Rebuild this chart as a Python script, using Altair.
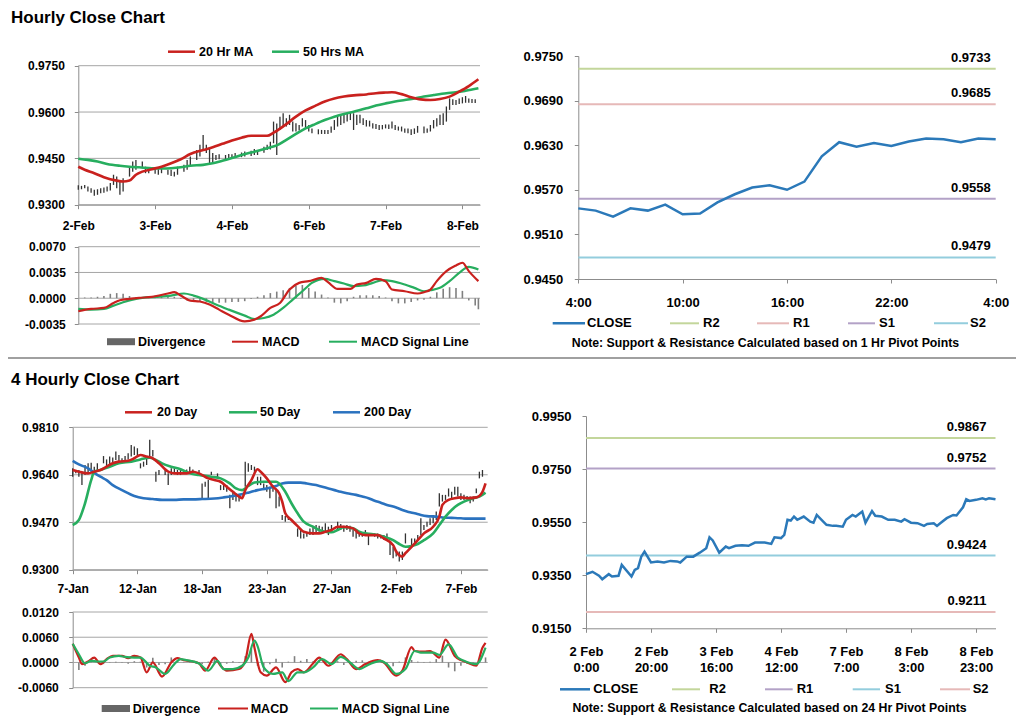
import json
import pandas as pd
import altair as alt

FONT = "Liberation Sans"
W, H = 1008, 708

# ---------------- colours ----------------
RED = "#c9211e"
GREEN = "#27ae5f"
BLUE200 = "#2a72bf"
CLOSE_BLUE = "#2b79b9"
BAR = "#333333"
DIVC = "#808080"
GRID = "#a6a6a6"
AXC = "#8c8c8c"
C_GREEN = "#c3d69b"
C_PINK = "#e6b9b8"
C_PURP = "#b3a2c7"
C_LBLUE = "#93cddd"

# ================= DATA =================
# --- Hourly close chart (hour index from 2-Feb 00:00) ---
tl_bar_hour = [0, 1, 2, 3, 4, 5, 6, 7, 8, 9,
               10, 11, 12, 13, 14, 16, 17, 18, 20, 21,
               22, 24, 25, 26, 28, 29, 30, 31, 33, 34,
               35, 37, 38, 39, 40, 41, 42, 43, 44, 46,
               47, 48, 49, 51, 52, 54, 55, 56, 58, 59,
               60, 61, 62, 63, 64, 65, 66, 67, 68, 69,
               70, 71, 72, 73, 75, 76, 77, 78, 79, 80,
               81, 82, 83, 84, 85, 86, 87, 88, 89, 90,
               91, 92, 93, 94, 95, 96, 97, 98, 99, 100,
               101, 102, 103, 104, 105, 106, 108, 109, 110, 111,
               112, 113, 114, 115, 116, 117, 118, 119, 120, 121,
               122, 123, 124]
tl_bar_low = [.9348, .9350, .9353, .9343, .9339, .9329, .9332, .9337, .9339, .9343,
              .9346, .9364, .9353, .9332, .9343, .9391, .9407, .9413, .9418, .9402,
              .9402, .9400, .9397, .9402, .9397, .9393, .9391, .9397, .9407, .9413,
              .9423, .9445, .9456, .9477, .9467, .9429, .9434, .9445, .9447, .9445,
              .9449, .9450, .9452, .9454, .9456, .9458, .9461, .9461, .9468, .9477,
              .9479, .9499, .9461, .9542, .9553, .9553, .9558, .9537, .9537, .9540,
              .9553, .9547, .9537, .9531, .9528, .9529, .9529, .9529, .9533, .9542,
              .9553, .9558, .9564, .9569, .9574, .9542, .9558, .9564, .9558, .9553,
              .9553, .9547, .9545, .9542, .9544, .9547, .9545, .9547, .9542, .9540,
              .9537, .9533, .9531, .9526, .9529, .9533, .9531, .9533, .9537, .9547,
              .9553, .9558, .9558, .9569, .9607, .9623, .9623, .9626, .9628, .9630,
              .9630, .9629, .9629]
tl_bar_high = [.9363, .9361, .9364, .9359, .9353, .9348, .9350, .9353, .9356, .9359,
               .9370, .9397, .9391, .9380, .9386, .9423, .9440, .9445, .9440, .9423,
               .9418, .9421, .9415, .9418, .9413, .9413, .9407, .9423, .9429, .9445,
               .9456, .9477, .9494, .9526, .9494, .9483, .9467, .9461, .9463, .9461,
               .9464, .9463, .9467, .9469, .9472, .9475, .9480, .9477, .9488, .9494,
               .9504, .9569, .9563, .9585, .9596, .9580, .9591, .9569, .9564, .9558,
               .9580, .9574, .9558, .9547, .9544, .9542, .9542, .9542, .9553, .9574,
               .9585, .9591, .9596, .9596, .9598, .9596, .9591, .9591, .9580, .9574,
               .9572, .9564, .9561, .9558, .9558, .9560, .9560, .9569, .9558, .9553,
               .9553, .9547, .9547, .9544, .9547, .9555, .9553, .9547, .9558, .9574,
               .9580, .9591, .9596, .9618, .9644, .9641, .9639, .9644, .9648, .9652,
               .9644, .9642, .9641]
tl_ma20_hour = [0, 2, 5, 8, 12, 14, 16, 18, 20, 23, 26, 29, 32, 35, 39, 42, 45, 48, 51, 54,
                57, 59, 61, 65, 68, 71, 74, 77, 80, 83, 86, 90, 93, 96, 98, 101, 104, 107, 110, 113,
                116, 119, 122, 125]
tl_ma20 = [.9423, .9413, .9402, .9389, .9378, .9375, .9378, .9397, .9407, .9415,
           .9423, .9434, .9447, .9464, .9477, .9486, .9497, .9508, .9517, .9523,
           .9523, .9523, .9533, .9561, .9585, .9605, .9620, .9634, .9644, .9650,
           .9654, .9657, .9661, .9663, .9664, .9658, .9648, .9641, .9639, .9642,
           .9650, .9666, .9684, .9706]
tl_ma50_hour = [0, 3, 6, 9, 13, 16, 19, 23, 26, 29, 32, 35, 39, 42, 45, 48, 51, 54, 57, 60,
                62, 65, 68, 71, 74, 77, 80, 83, 86, 90, 93, 96, 99, 102, 105, 108, 111, 115, 118, 121,
                125]
tl_ma50 = [.9449, .9445, .9440, .9432, .9426, .9423, .9421, .9418, .9417, .9418,
           .9421, .9426, .9429, .9434, .9442, .9451, .9461, .9469, .9477, .9486,
           .9492, .9510, .9529, .9547, .9561, .9574, .9585, .9594, .9601, .9612,
           .9621, .9628, .9634, .9639, .9644, .9650, .9655, .9661, .9664, .9669,
           .9677]
tl_xtick_hour = [0, 24, 48, 72, 96, 120]
tl_xtick_label = ["2-Feb", "3-Feb", "4-Feb", "6-Feb", "7-Feb", "8-Feb"]
tl_ytick = [0.9300, 0.9450, 0.9600, 0.9750]

tm_macd_hour = [0, 4, 8, 11, 13, 16, 19, 23, 28, 30, 32, 35, 38, 41, 44, 47, 52, 55, 57, 60,
                63, 66, 69, 72, 76, 78, 81, 85, 87, 90, 93, 96, 98, 102, 106, 108, 110, 112, 115, 118,
                120, 122, 125]
tm_macd = [-.00177, -.00145, -.00132, -.00064, -.00027, -.00009, .00005, .00018, .00064, .00082,
           .00036, -.00032, -.00045, -.00086, -.00155, -.00223, -.00314, -.00291, -.00245, -.00132,
           -.00064, .00118, .00209, .00232, .00277, .00218, .00127, .00127, .00186, .00209,
           .00264, .00232, .00118, .00095, .00064, .00082, .00118, .00232, .00368, .00445,
           .00482, .00368, .00232]
tm_sig_hour = [0, 4, 8, 11, 14, 17, 20, 24, 29, 33, 36, 39, 43, 47, 52, 55, 58, 61, 64, 67,
               70, 73, 77, 80, 83, 86, 89, 92, 95, 98, 102, 105, 108, 110, 113, 116, 119, 122, 125]
tm_sig = [-.00145, -.00155, -.00145, -.00100, -.00055, -.00018, .00005, .00018, .00036, .00064,
          .00036, -.00009, -.00086, -.00155, -.00236, -.00282, -.00268, -.00223, -.00132, -.00018,
          .00095, .00209, .00264, .00232, .00200, .00164, .00173, .00209, .00245, .00232,
          .00186, .00141, .00095, .00109, .00141, .00232, .00345, .00427, .00391]
tm_div_hour = [0, 2, 4, 6, 8, 10, 12, 14, 16, 18, 20, 22, 24, 26, 28, 30, 32, 34, 36, 38,
               40, 42, 44, 46, 48, 50, 52, 54, 56, 58, 60, 62, 64, 66, 68, 70, 72, 74, 76, 78,
               80, 82, 84, 86, 88, 90, 92, 94, 96, 98, 100, 102, 104, 106, 108, 110, 112, 114, 116, 118,
               120, 122, 124, 125]
tm_div = [0, .0001, .0001, .0002, .0003, .0006, .0007, .0006, .0003, .0001,
          .0001, .0001, .0001, .0002, .0003, .0002, -.0001, -.0003, -.0004, -.0005,
          -.0005, -.0006, -.0006, -.0006, -.0005, -.0005, -.0004, -.0001, .0002, .0004,
          .0007, .0009, .0011, .0014, .0017, .0018, .0014, .0009, .0005, .0001,
          -.0006, -.0007, -.0004, .0002, .0004, .0004, .0004, .0003, .0001, -.0004,
          -.0007, -.0007, -.0005, -.0003, -.0002, .0002, .0008, .0013, .0015, .0014,
          .0010, -.0003, -.0010, -.0015]
tm_ytick = [-0.0035, 0.0, 0.0035, 0.0070]

tr_hour = [0, 1, 2, 3, 4, 5, 6, 7, 8, 9, 10, 11, 12, 13, 14, 15, 16, 17, 18, 19, 20, 21, 22, 23, 24]
tr_close = [.9545, .9542, .9534, .9545, .9542, .9550, .9537, .9538, .9553, .9564,
            .9573, .9576, .9570, .9581, .9615, .9634, .9628, .9633, .9629, .9635,
            .9639, .9638, .9634, .9639, .9638]
tr_xtick_hour = [0, 6, 12, 18, 24]
tr_xtick_label = ["4:00", "10:00", "16:00", "22:00", "4:00"]
tr_ytick = [0.9450, 0.9510, 0.9570, 0.9630, 0.9690, 0.9750]
tr_level_name = ["R2", "R1", "S1", "S2"]
tr_level_value = [0.9733, 0.9685, 0.9558, 0.9479]
tr_level_color = [C_GREEN, C_PINK, C_PURP, C_LBLUE]

# --- 4 hourly close chart (bar index from 7-Jan) ---
bl_bar_idx = [0, 1, 2, 3, 4, 5, 6, 7, 8, 10,
              11, 12, 13, 14, 15, 16, 17, 18, 19, 20,
              21, 22, 23, 24, 25, 26, 27, 28, 30, 31,
              32, 33, 34, 35, 36, 37, 38, 39, 41, 42,
              43, 44, 45, 47, 48, 49, 50, 51, 52, 53,
              54, 56, 57, 58, 59, 60, 61, 62, 63, 64,
              65, 66, 67, 68, 69, 70, 73, 74, 75, 76,
              77, 78, 79, 80, 81, 82, 83, 84, 86, 87,
              88, 89, 90, 91, 92, 93, 94, 95, 96, 98,
              99, 100, 101, 102, 103, 104, 105, 106, 107, 108,
              110, 111, 112, 113, 114, 115, 116, 117, 118, 119,
              120, 121, 122, 123, 124, 125, 126, 127, 128, 129,
              130, 131, 132, 133]
bl_bar_low = [.9633, .9645, .9633, .9603, .9639, .9645, .9657, .9651, .9657, .9681,
              .9669, .9675, .9675, .9693, .9687, .9681, .9693, .9695, .9705, .9711,
              .9705, .9663, .9669, .9675, .9705, .9705, .9615, .9639, .9639, .9603,
              .9639, .9645, .9639, .9639, .9645, .9643, .9645, .9647, .9645, .9556,
              .9597, .9556, .9639, .9631, .9585, .9585, .9579, .9520, .9550, .9544,
              .9544, .9597, .9651, .9657, .9645, .9603, .9603, .9585, .9579, .9556,
              .9579, .9520, .9526, .9478, .9472, .9478, .9418, .9412, .9412, .9418,
              .9424, .9424, .9430, .9436, .9430, .9436, .9424, .9436, .9442, .9442,
              .9436, .9442, .9436, .9418, .9412, .9418, .9418, .9424, .9388, .9418,
              .9412, .9412, .9406, .9406, .9353, .9341, .9347, .9329, .9335, .9394,
              .9388, .9394, .9406, .9424, .9442, .9454, .9460, .9466, .9478, .9526,
              .9544, .9550, .9562, .9550, .9568, .9562, .9550, .9550, .9556, .9538,
              .9544, .9574, .9627, .9633]
bl_bar_high = [.9663, .9657, .9657, .9651, .9675, .9681, .9683, .9669, .9681, .9707,
               .9695, .9705, .9702, .9723, .9711, .9699, .9707, .9717, .9747, .9741,
               .9735, .9681, .9687, .9699, .9765, .9729, .9651, .9657, .9657, .9645,
               .9663, .9663, .9657, .9657, .9657, .9659, .9669, .9659, .9657, .9609,
               .9615, .9621, .9651, .9645, .9603, .9603, .9603, .9568, .9579, .9574,
               .9568, .9687, .9681, .9675, .9669, .9633, .9633, .9609, .9603, .9597,
               .9603, .9591, .9562, .9496, .9492, .9490, .9448, .9442, .9430, .9433,
               .9448, .9454, .9460, .9457, .9454, .9466, .9454, .9460, .9472, .9464,
               .9457, .9460, .9457, .9442, .9436, .9436, .9430, .9442, .9430, .9430,
               .9430, .9424, .9424, .9430, .9400, .9382, .9371, .9365, .9365, .9430,
               .9412, .9412, .9424, .9484, .9460, .9472, .9484, .9496, .9508, .9574,
               .9568, .9568, .9591, .9579, .9597, .9597, .9574, .9568, .9564, .9562,
               .9562, .9591, .9651, .9657]
bl_ma20_idx = [0, 2, 5, 7, 9, 11, 13, 15, 18, 20, 22, 24, 26, 28, 31, 33, 35, 37, 39, 41,
               44, 46, 48, 50, 52, 54, 55, 56, 58, 60, 61, 63, 65, 67, 68, 69, 71, 73, 75, 78,
               80, 82, 84, 86, 88, 91, 93, 95, 97, 99, 101, 104, 105, 107, 108, 110, 112, 114, 117, 119,
               120, 122, 124, 126, 128, 131, 133, 134]
bl_ma20 = [.9657, .9651, .9645, .9651, .9657, .9669, .9681, .9687, .9690, .9699,
           .9711, .9705, .9699, .9681, .9651, .9645, .9645, .9645, .9651, .9645,
           .9627, .9621, .9615, .9597, .9579, .9562, .9556, .9585, .9621, .9660,
           .9651, .9627, .9597, .9574, .9544, .9502, .9478, .9456, .9436, .9430,
           .9430, .9436, .9442, .9454, .9454, .9448, .9430, .9424, .9424, .9424,
           .9412, .9388, .9365, .9347, .9359, .9382, .9406, .9430, .9454, .9490,
           .9532, .9550, .9556, .9559, .9556, .9559, .9579, .9609]
bl_ma50_idx = [0, 2, 4, 6, 7, 9, 12, 15, 19, 22, 25, 27, 29, 32, 35, 38, 41, 45, 48, 51,
               53, 55, 57, 59, 62, 66, 67, 69, 71, 73, 75, 78, 80, 82, 84, 86, 88, 91, 93, 95,
               97, 99, 101, 104, 106, 108, 110, 112, 114, 117, 119, 121, 123, 125, 127, 130, 132, 134]
bl_ma50 = [.9460, .9478, .9538, .9621, .9651, .9657, .9669, .9681, .9687, .9695,
           .9701, .9693, .9681, .9669, .9660, .9645, .9639, .9633, .9627, .9609,
           .9591, .9585, .9600, .9612, .9615, .9615, .9609, .9579, .9538, .9502,
           .9472, .9454, .9442, .9436, .9434, .9442, .9452, .9448, .9436, .9430,
           .9428, .9424, .9418, .9406, .9392, .9382, .9385, .9392, .9406, .9430,
           .9460, .9490, .9514, .9532, .9544, .9556, .9562, .9576]
bl_ma200_idx = [0, 2, 5, 7, 9, 11, 13, 16, 20, 23, 26, 29, 33, 36, 39, 42, 46, 49, 52, 54,
                57, 60, 63, 66, 68, 70, 72, 74, 76, 79, 81, 83, 85, 87, 89, 92, 94, 96, 98, 100,
                102, 105, 107, 109, 111, 113, 115, 118, 120, 122, 124, 126, 128, 131, 134]
bl_ma200 = [.9690, .9677, .9663, .9647, .9633, .9621, .9603, .9585, .9564, .9556,
            .9553, .9550, .9550, .9552, .9552, .9553, .9555, .9559, .9564, .9568,
            .9576, .9585, .9591, .9600, .9609, .9612, .9612, .9612, .9609, .9603,
            .9597, .9591, .9585, .9579, .9574, .9568, .9562, .9556, .9547, .9540,
            .9532, .9523, .9514, .9507, .9502, .9496, .9492, .9490, .9487, .9486,
            .9485, .9484, .9483, .9483, .9483]
bl_xtick_idx = [0, 21, 42, 63, 84, 105, 126]
bl_xtick_label = ["7-Jan", "12-Jan", "18-Jan", "23-Jan", "27-Jan", "2-Feb", "7-Feb"]
bl_ytick = [0.9300, 0.9470, 0.9640, 0.9810]

bm_macd_idx = [0, 2, 3, 5, 7, 9, 11, 13, 16, 18, 20, 22, 24, 26, 29, 32, 34, 36, 39, 41,
               43, 46, 48, 50, 54, 56, 58, 59, 61, 63, 66, 69, 71, 73, 75, 78, 80, 83, 87, 89,
               92, 95, 99, 101, 105, 107, 110, 111, 114, 116, 119, 121, 124, 126, 128, 131, 133, 134]
bm_macd = [.00444, .00117, -.00039, .00023, .00117, -.00039, .00078, .00156, .00156, .00101,
           .00156, .00117, -.00234, 0, -.00335, 0, .00101, .00055, .00023, -.00023,
           -.00195, .00117, -.00078, -.00195, -.00156, .00039, .0068, .00351, -.00234, -.00312,
           -.00117, -.00467, -.00234, -.00156, -.00234, -.00023, .00117, -.00078, .00195, .00078,
           -.00156, -.00039, .00055, 0, -.00312, -.00195, .00366, .00273, .00257, .00273,
           .00117, .00545, .00156, .00055, 0, -.00078, .00351, .00467]
bm_sig_idx = [0, 2, 4, 6, 8, 10, 12, 15, 17, 20, 22, 25, 27, 30, 33, 35, 37, 41, 44, 47,
              49, 52, 55, 57, 59, 60, 62, 65, 68, 70, 73, 75, 78, 81, 84, 87, 90, 93, 96, 100,
              102, 105, 108, 111, 113, 117, 119, 122, 125, 127, 131, 134]
bm_sig = [.00444, .00195, -.00023, .00039, .00023, .00023, .00117, .00156, .00132, .00117,
          .00117, -.00078, -.00117, -.00273, -.00039, .00078, .00055, -.00023, -.00195, .00039,
          -.00156, -.00156, -.00078, .00117, .00522, .00390, -.00117, -.00273, -.00234, -.00444,
          -.00234, -.00234, -.00117, .00078, -.00039, .00132, 0, -.00156, -.00055, .00039,
          -.00039, -.00273, -.00156, .00273, .00234, .00234, .00179, .00428, .00117, .00039,
          -.00039, .00351]
bm_div_idx = [0, 2, 4, 6, 8, 10, 12, 14, 16, 18, 20, 22, 24, 26, 28, 30, 32, 34, 36, 38,
              40, 42, 44, 46, 48, 50, 52, 54, 56, 58, 60, 62, 64, 66, 68, 70, 72, 74, 76, 78,
              80, 82, 84, 86, 88, 90, 92, 94, 96, 98, 100, 102, 104, 106, 108, 110, 112, 114, 116, 118,
              120, 122, 124, 126, 128, 130, 132, 134]
bm_div = [0, -.0018, -.0008, .0002, .0004, -.0004, .0001, .0002, .0001, -.0003,
          .0003, .0002, -.0012, .0011, -.0006, -.0004, .0012, .0003, .0001, .0001,
          -.0001, -.0004, .0002, .0011, -.0004, -.0003, .0003, -.0001, .0015, .0032,
          -.0008, -.0022, -.0004, .0009, -.0012, .0002, .0015, .0004, .0008, .0003,
          .0006, -.0002, -.0003, .0003, -.0006, -.0002, .0004, .0005, .0002, .0001,
          -.0001, -.0006, -.0009, .0002, .0012, .0006, .0002, -.0001, .0002, .0008,
          .0016, -.0012, -.0021, -.0008, -.0003, -.0002, .0006, .0012]
bm_ytick = [-0.0060, 0.0, 0.0060, 0.0120]

br_hour = [0, 2, 4, 5, 7, 8, 10, 11, 14, 15, 16, 17, 18, 20, 22, 24, 26, 28, 29, 31,
           33, 35, 37, 38, 39, 41, 43, 44, 46, 48, 50, 52, 55, 57, 58, 60, 61, 62, 63, 64,
           65, 67, 69, 70, 71, 73, 74, 76, 77, 79, 80, 82, 83, 85, 86, 88, 89, 91, 93, 95,
           97, 98, 100, 102, 104, 105, 107, 108, 109, 111, 113, 114, 116, 117, 118, 120, 122, 123, 124, 126]
br_close = [.9354, .9363, .9348, .9335, .9354, .9345, .9348, .9389, .9345, .9370,
            .9377, .9420, .9439, .9398, .9402, .9398, .9404, .9402, .9398, .9420,
            .9420, .9435, .9452, .9493, .9481, .9435, .9458, .9452, .9461, .9463,
            .9461, .9473, .9473, .9468, .9493, .9490, .9502, .9559, .9556, .9571,
            .9559, .9571, .9552, .9548, .9577, .9552, .9540, .9536, .9536, .9533,
            .9559, .9577, .9571, .9590, .9548, .9592, .9574, .9571, .9559, .9559,
            .9552, .9561, .9548, .9546, .9536, .9543, .9546, .9536, .9546, .9565,
            .9577, .9575, .9606, .9636, .9630, .9634, .9640, .9636, .9640, .9636]
br_xtick_hour = [0, 20, 40, 60, 80, 100, 120]
br_xtick_label = [["2 Feb", "0:00"], ["2 Feb", "20:00"], ["3 Feb", "16:00"], ["4 Feb", "12:00"],
                  ["7 Feb", "7:00"], ["8 Feb", "3:00"], ["8 Feb", "23:00"]]
br_ytick = [0.9150, 0.9350, 0.9550, 0.9750, 0.9950]
br_level_name = ["R2", "R1", "S1", "S2"]
br_level_value = [0.9867, 0.9752, 0.9424, 0.9211]
br_level_color = [C_GREEN, C_PURP, C_LBLUE, C_PINK]

# ================= LAYOUT (pixel positions of each panel) =================
PANEL = {
    "tl": {"x_dom": [0, 125.5], "x_rng": [70.3, 472.0], "y_dom": [0.93, 0.975], "y_rng": [196.7, 57.7]},
    "tm": {"x_dom": [0, 125.5], "x_rng": [70.3, 472.0], "y_dom": [-0.0035, 0.007], "y_rng": [316.0, 238.7]},
    "tr": {"x_dom": [0, 24], "x_rng": [570.3, 987.7], "y_dom": [0.945, 0.975], "y_rng": [271.0, 48.0]},
    "bl": {"x_dom": [0, 134.7], "x_rng": [64.7, 479.7], "y_dom": [0.93, 0.981], "y_rng": [561.7, 419.3]},
    "bm": {"x_dom": [0, 134.7], "x_rng": [64.7, 479.7], "y_dom": [-0.006, 0.012], "y_rng": [679.7, 604.0]},
    "br": {"x_dom": [0, 126], "x_rng": [578.0, 987.5], "y_dom": [0.915, 0.995], "y_rng": [620.3, 408.0]},
}

YLAB = "replace(format(datum.value, '.4f'), '\u2212', '-')"


def S(p, ax):
    d = PANEL[p]
    return alt.Scale(domain=d[ax + "_dom"], range=d[ax + "_rng"], nice=False, zero=False)


def EX(p, field, axis=None):
    return alt.X(field, type="quantitative", scale=S(p, "x"), axis=axis, title=None)


def EY(p, field, axis=None):
    return alt.Y(field, type="quantitative", scale=S(p, "y"), axis=axis, title=None)


def y_axis(p, values, size, pad):
    return alt.Axis(orient="left", offset=-PANEL[p]["x_rng"][0], values=values, labelExpr=YLAB,
                    tickSize=4, labelPadding=pad, labelFontSize=size, labelFont=FONT,
                    labelFontWeight="bold", labelColor="#000000", domainColor=AXC, tickColor=AXC,
                    domainWidth=1, tickWidth=1, grid=False, labelOverlap=False, labelFlush=False)


def x_axis(p, values, labels, size, pad, line_height=14):
    expr = json.dumps(labels) + "[indexof(" + json.dumps(values) + ", datum.value)]"
    return alt.Axis(orient="bottom", offset=PANEL[p]["y_rng"][0] - H, values=values, labelExpr=expr,
                    tickSize=4, labelPadding=pad, labelFontSize=size, labelFont=FONT,
                    labelFontWeight="bold", labelColor="#000000", domainColor=AXC, tickColor=AXC,
                    domainWidth=1, tickWidth=1, grid=False, labelOverlap=False, labelFlush=False,
                    labelAngle=0, labelLineHeight=line_height)


def grid(p, ticks, xaxis=None, yaxis=None):
    df = pd.DataFrame({"v": ticks})
    df["x0"] = PANEL[p]["x_dom"][0]
    df["x1"] = PANEL[p]["x_dom"][1]
    return alt.Chart(df).mark_rule(color=GRID, strokeWidth=1).encode(
        x=EX(p, "x0", xaxis), x2="x1", y=EY(p, "v", yaxis))


def bars(p, xs, lo, hi):
    df = pd.DataFrame({"h": xs, "lo": lo, "hi": hi})
    return alt.Chart(df).mark_rule(color=BAR, strokeWidth=1.3).encode(
        x=EX(p, "h"), y=EY(p, "lo"), y2="hi")


def line(p, xs, ys, color, width, interp="monotone", xaxis=None, yaxis=None):
    df = pd.DataFrame({"h": xs, "v": ys})
    return alt.Chart(df).mark_line(color=color, strokeWidth=width, interpolate=interp).encode(
        x=EX(p, "h", xaxis), y=EY(p, "v", yaxis))


def hist(p, xs, vals):
    df = pd.DataFrame({"h": xs, "d": vals})
    df["z"] = 0.0
    return alt.Chart(df).mark_rule(color=DIVC, strokeWidth=1.6).encode(
        x=EX(p, "h"), y=EY(p, "d"), y2="z")


def levels(p, names, vals, colors, dx):
    df = pd.DataFrame({"name": names, "v": vals, "color": colors})
    df["x0"] = PANEL[p]["x_dom"][0]
    df["x1"] = PANEL[p]["x_dom"][1]
    df["label"] = [f"{v:.4f}" for v in vals]
    r = alt.Chart(df).mark_rule(strokeWidth=2).encode(
        x=EX(p, "x0"), x2="x1", y=EY(p, "v"), color=alt.Color("color:N", scale=None))
    t = alt.Chart(df).mark_text(align="right", baseline="middle", dx=dx, dy=-11, font=FONT,
                                fontSize=13, fontWeight="bold", color="#000000").encode(
        x=EX(p, "x1"), y=EY(p, "v"), text="label:N")
    return [r, t]


layers = []
# ---- top-left price panel
layers.append(grid("tl", tl_ytick,
                   xaxis=x_axis("tl", tl_xtick_hour, tl_xtick_label, 12, 11.5),
                   yaxis=y_axis("tl", tl_ytick, 12, 10)))
layers.append(bars("tl", tl_bar_hour, tl_bar_low, tl_bar_high))
layers.append(line("tl", tl_ma50_hour, tl_ma50, GREEN, 2.6))
layers.append(line("tl", tl_ma20_hour, tl_ma20, RED, 2.6))
# ---- top MACD panel
layers.append(grid("tm", tm_ytick, yaxis=y_axis("tm", tm_ytick, 12, 9)))
layers.append(hist("tm", tm_div_hour, tm_div))
layers.append(line("tm", tm_sig_hour, tm_sig, GREEN, 2.2))
layers.append(line("tm", tm_macd_hour, tm_macd, RED, 2.2))
# ---- top-right panel
layers += levels("tr", tr_level_name, tr_level_value, tr_level_color, -5)
layers.append(line("tr", tr_hour, tr_close, CLOSE_BLUE, 2.5, interp="linear",
                   xaxis=x_axis("tr", tr_xtick_hour, tr_xtick_label, 13, 13),
                   yaxis=y_axis("tr", tr_ytick, 13, 11.5)))
# ---- bottom-left price panel
layers.append(grid("bl", bl_ytick,
                   xaxis=x_axis("bl", bl_xtick_idx, bl_xtick_label, 12, 9.5),
                   yaxis=y_axis("bl", bl_ytick, 12, 10.4)))
layers.append(bars("bl", bl_bar_idx, bl_bar_low, bl_bar_high))
layers.append(line("bl", bl_ma200_idx, bl_ma200, BLUE200, 2.6))
layers.append(line("bl", bl_ma50_idx, bl_ma50, GREEN, 2.6))
layers.append(line("bl", bl_ma20_idx, bl_ma20, RED, 2.6))
# ---- bottom MACD panel
layers.append(grid("bm", bm_ytick, yaxis=y_axis("bm", bm_ytick, 12, 10.4)))
layers.append(hist("bm", bm_div_idx, bm_div))
layers.append(line("bm", bm_macd_idx, bm_macd, RED, 2.2))
layers.append(line("bm", bm_sig_idx, bm_sig, GREEN, 2.2))
# ---- bottom-right panel
layers += levels("br", br_level_name, br_level_value, br_level_color, -9)
layers.append(line("br", br_hour, br_close, CLOSE_BLUE, 2.5, interp="linear",
                   xaxis=x_axis("br", br_xtick_hour, br_xtick_label, 13, 13, line_height=16),
                   yaxis=y_axis("br", br_ytick, 13, 11)))

# ---- legends, titles, notes (page layout in pixels)
leg_line_x1 = [160, 264, 99, 224, 321, 544.7, 662, 749, 840, 926,
               117, 221, 325, 93.7, 210, 302, 552, 664, 757, 844.7, 932]
leg_line_x2 = [187, 291, 127, 250, 349, 577, 691, 781, 867, 960,
               144, 249, 352, 122, 240, 330, 582, 692, 784.7, 872, 962]
leg_line_y = [43.7, 43.7, 333.7, 333.7, 333.7, 315.3, 315.3, 315.3, 315.3, 315.3,
              404.3, 404.3, 404.3, 700.5, 700.5, 700.5, 681.3, 681.3, 681.3, 681.3, 681.3]
leg_line_color = [RED, GREEN, "#666666", RED, GREEN, CLOSE_BLUE, C_GREEN, C_PINK, C_PURP, C_LBLUE,
                  RED, GREEN, BLUE200, "#666666", RED, GREEN, CLOSE_BLUE, C_GREEN, C_PURP, C_LBLUE, C_PINK]
leg_line_w = [2.5, 2.5, 7, 2, 2, 2.5, 2, 2, 2, 2,
              2.5, 2.5, 2.5, 7, 2, 2, 2.5, 2, 2, 2, 2]
leg_text = ["20 Hr MA", "50 Hrs MA", "Divergence", "MACD", "MACD Signal Line",
            "CLOSE", "R2", "R1", "S1", "S2",
            "20 Day", "50 Day", "200 Day", "Divergence", "MACD", "MACD Signal Line",
            "CLOSE", "R2", "R1", "S1", "S2"]
leg_text_x = [191, 295, 130, 254, 353, 579, 695, 785, 871, 962,
              149, 252, 356, 124.7, 242.7, 333.7, 585.3, 701.3, 788.7, 877, 964.7]
leg_text_size = [12.5, 12.5, 12.5, 12.5, 12.5, 13, 13, 13, 13, 13,
                 12.5, 12.5, 12.5, 12.5, 12.5, 12.5, 13, 13, 13, 13, 13]

ldf = pd.DataFrame({"x1": leg_line_x1, "x2": leg_line_x2, "y": leg_line_y,
                    "color": leg_line_color, "w": leg_line_w})
layers.append(alt.Chart(ldf).mark_rule().encode(
    x=alt.X("x1:Q", scale=None), x2="x2:Q", y=alt.Y("y:Q", scale=None),
    color=alt.Color("color:N", scale=None), strokeWidth=alt.StrokeWidth("w:Q", scale=None)))

tdf = pd.DataFrame({"x": leg_text_x, "y": leg_line_y, "t": leg_text, "s": leg_text_size})
layers.append(alt.Chart(tdf).mark_text(align="left", baseline="middle", font=FONT,
                                       fontWeight="bold", color="#000000").encode(
    x=alt.X("x:Q", scale=None), y=alt.Y("y:Q", scale=None), text="t:N",
    size=alt.Size("s:Q", scale=None)))

notes = ["Note: Support & Resistance Calculated based on 1 Hr Pivot Points",
         "Note: Support & Resistance Calculated based on 24 Hr Pivot Points"]
ndf = pd.DataFrame({"x": [757.5, 761.5], "y": [335.3, 700.2], "t": notes})
layers.append(alt.Chart(ndf).mark_text(align="center", baseline="middle", font=FONT,
                                       fontWeight="bold", fontSize=12.3, color="#000000").encode(
    x=alt.X("x:Q", scale=None), y=alt.Y("y:Q", scale=None), text="t:N"))

titles = ["Hourly Close Chart", "4 Hourly Close Chart"]
ttl = pd.DataFrame({"x": [3, 3], "y": [14.7, 377.3], "t": titles})
layers.append(alt.Chart(ttl).mark_text(align="left", baseline="alphabetic", font=FONT,
                                       fontWeight="bold", fontSize=17, color="#000000").encode(
    x=alt.X("x:Q", scale=None), y=alt.Y("y:Q", scale=None), text="t:N"))

sep = pd.DataFrame({"x1": [0], "x2": [W], "y": [350]})
layers.append(alt.Chart(sep).mark_rule(color="#a0a0a0", strokeWidth=2).encode(
    x=alt.X("x1:Q", scale=None), x2="x2:Q", y=alt.Y("y:Q", scale=None)))

chart = alt.layer(*layers).resolve_scale(
    x="independent", y="independent", color="independent",
    size="independent", strokeWidth="independent"
).properties(
    width=W, height=H, autosize=alt.AutoSizeParams(type="none"), padding=0, background="white"
).configure_view(strokeWidth=0)

chart.save("out.html", embed_options={"renderer": "svg", "actions": False})
